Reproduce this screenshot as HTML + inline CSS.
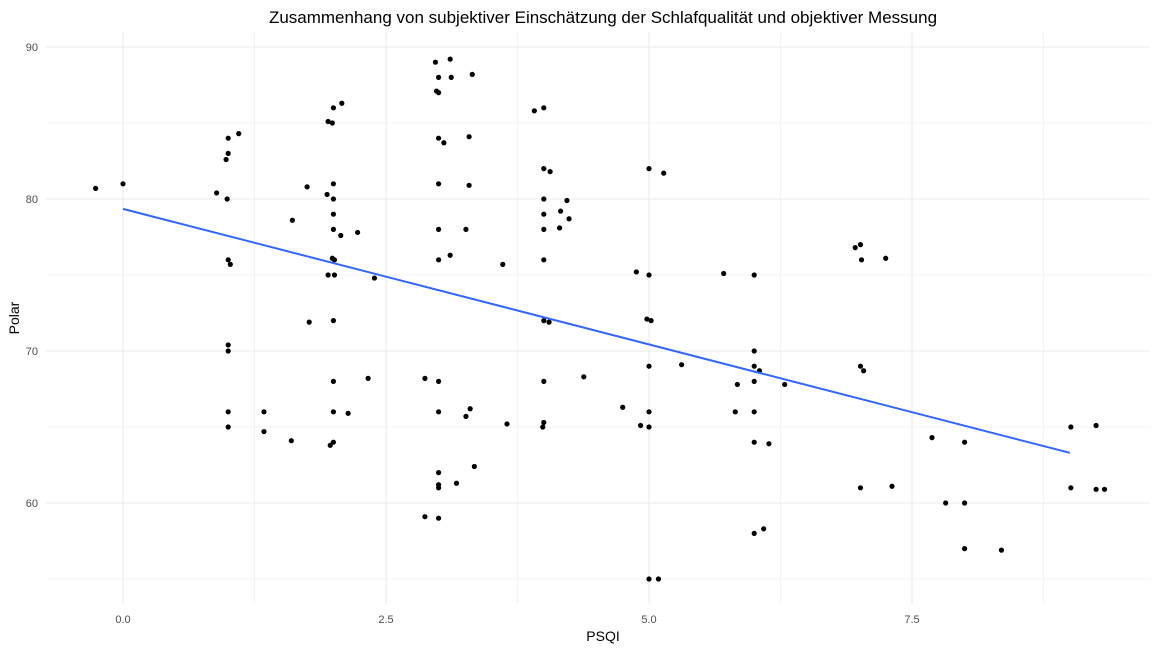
<!DOCTYPE html>
<html><head><meta charset="utf-8"><style>
body{margin:0;background:#fff}
svg{display:block;font-family:"Liberation Sans",Arial,sans-serif}
</style></head><body>
<svg id="chart" width="1162" height="651" viewBox="0 0 1162 651" xmlns="http://www.w3.org/2000/svg">
<text x="603" y="23" text-anchor="middle" font-size="17" fill="#000">Zusammenhang von subjektiver Einschätzung der Schlafqualität und objektiver Messung</text>
<g id="grid"></g>
<g id="ticks"></g>
<g id="pts"></g>
<g id="fit"></g>
<text x="603" y="641" text-anchor="middle" font-size="14" fill="#000">PSQI</text>
<text transform="translate(19,318) rotate(-90)" text-anchor="middle" font-size="14" fill="#000">Polar</text>
</svg>
<script>
const xTicks=[0,2.5,5,7.5];
const xTickLabels=["0.0","2.5","5.0","7.5"];
const xMinor=[1.25,3.75,6.25,8.75];
const yTicks=[60,70,80,90];
const yTickLabels=["60","70","80","90"];
const yMinor=[55,65,75,85];
const psqi=[-0.26,0,0.89,0.99,1,1,0.98,1.1,1,1.02,1,1,1,1,1.34,1.34,1.61,1.6,1.75,1.77,1.94,1.95,1.99,2,2.08,2,2,2,2,2.07,2.23,1.99,2.01,1.95,2.01,2,2,2,2,1.97,2.14,2.39,2.33,2.97,3.11,2.98,3,3,3.12,3.32,3,3.05,3.29,3,3.29,3,3.26,3,3.11,2.87,3,3,3.3,3.26,3,3,3,3.17,3.34,2.87,3,3.61,3.65,3.91,4,4,4.06,4,4,4,4.16,4.22,4.24,4.15,4,4,4.05,4,4,3.99,4.38,4.88,5,5,5.14,4.98,5.02,5,5.31,4.75,5,4.92,5,5,5.09,5.71,6,6,6,6.05,6,5.84,6.29,5.82,6,6,6.14,6,6.09,6.96,7.01,7.02,7.25,7.01,7.04,7.01,7.31,7.69,8,7.82,8,8,8.35,9.01,9.25,9.01,9.25,9.33];
const polar=[80.7,81,80.4,80,83,84,82.6,84.3,76,75.7,70.4,70,66,65,66,64.7,78.6,64.1,80.8,71.9,80.3,85.1,85,86,86.3,81,80,79,78,77.6,77.8,76.1,76,75,75,72,68,66,64,63.8,65.9,74.8,68.2,89,89.2,87.1,87,88,88,88.2,84,83.7,84.1,81,80.9,78,78,76,76.3,68.2,68,66,66.2,65.7,62,61.2,61,61.3,62.4,59.1,59,75.7,65.2,85.8,86,82,81.8,80,79,78,79.2,79.9,78.7,78.1,76,72,71.9,68,65.3,65,68.3,75.2,75,82,81.7,72.1,72,69,69.1,66.3,66,65.1,65,55,55,75.1,75,70,69,68.7,68,67.8,67.8,66,66,64,63.9,58,58.3,76.8,77,76,76.1,69,68.7,61,61.1,64.3,64,60,60,57,56.9,65,65.1,61,60.9,60.9];
const fitX=[0,9];
const fitY=[79.35,63.3];

const NS="http://www.w3.org/2000/svg";
const L=46,R=1150,T=32,B=604;
const sx=v=>123+v*105.2;
const sy=v=>47+(90-v)*15.2;
function mk(tag,attrs,parent){const e=document.createElementNS(NS,tag);for(const k in attrs)e.setAttribute(k,attrs[k]);parent.appendChild(e);return e;}
const grid=document.getElementById('grid'),ticks=document.getElementById('ticks'),pts=document.getElementById('pts'),fit=document.getElementById('fit');
xMinor.forEach(v=>{const e=mk('line',{x1:sx(v),x2:sx(v),y1:T,y2:B,stroke:'#f0f0f0','stroke-width':0.8},grid);

});
yMinor.forEach(v=>{const e=mk('line',{x1:L,x2:R,y1:sy(v),y2:sy(v),stroke:'#f0f0f0','stroke-width':0.8},grid);

});
xTicks.forEach((v,i)=>{const e=mk('line',{x1:sx(v),x2:sx(v),y1:T,y2:B,stroke:'#ebebeb','stroke-width':1.1},grid);


const t=mk('text',{x:sx(v),y:623,'text-anchor':'middle','font-size':11,fill:'#4d4d4d'},ticks);t.textContent=xTickLabels[i];

});
yTicks.forEach((v,i)=>{const e=mk('line',{x1:L,x2:R,y1:sy(v),y2:sy(v),stroke:'#ebebeb','stroke-width':1.1},grid);


const t=mk('text',{x:38,y:sy(v)+4,'text-anchor':'end','font-size':11,fill:'#4d4d4d'},ticks);t.textContent=yTickLabels[i];

});
psqi.forEach((v,i)=>{const c=mk('circle',{cx:sx(v),cy:sy(polar[i]),r:2.6,fill:'#000'},pts);

});
const ln=mk('line',{x1:sx(fitX[0]),y1:sy(fitY[0]),x2:sx(fitX[1]),y2:sy(fitY[1]),stroke:'#3366ff','stroke-width':2},fit);


</script>
</body></html>
